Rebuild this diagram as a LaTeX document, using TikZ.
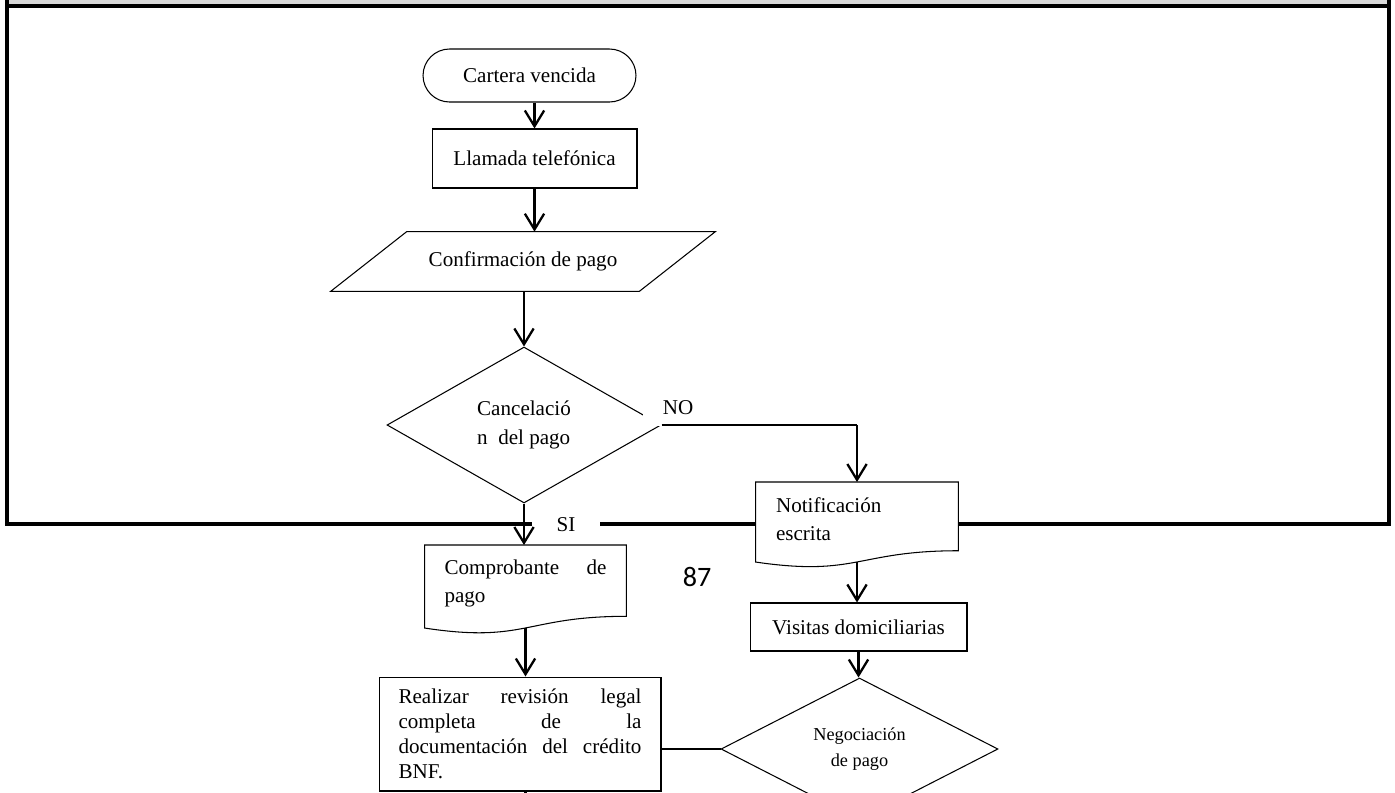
\documentclass[tikz,border=0pt]{standalone}
\usepackage{fontspec}
\setmainfont{Liberation Serif}
\newfontfamily\pagefont{Carlito}
\usepackage{xcolor}
\usetikzlibrary{arrows.meta, positioning, shapes.geometric, calc, backgrounds}
\definecolor{bandgray}{RGB}{217,217,217}
\hyphenpenalty=10000
\exhyphenpenalty=10000
\tolerance=10000
\hbadness=10000

% document symbol (wavy bottom) around node #1, full height #2
\newcommand{\docoutline}[2]{%
  \draw[shapeline, fill=white] (#1.north west) -- (#1.north east)
    -- ($(#1.north east)+(0,0.802*#2)$)
    .. controls ($(#1.north)+(0,0.802*#2)$) and ($(#1.north)+(0,1.1075*#2)$)
    .. ($(#1.north west)+(0,0.934*#2)$) -- cycle;
  \coordinate (#1 wave) at ($(#1.north)+(0,0.933*#2)$);}

\begin{document}
\begin{tikzpicture}[x=0.02cm, y=-0.02cm, font=\fontsize{12}{15.9}\selectfont,
    shapeline/.style={draw, line width=0.6pt},
    procbox/.style={shapeline, rectangle, align=center},
    decision/.style={shapeline, diamond, aspect=2, inner sep=0pt},
    arr/.style={line width=1.3pt, -{Straight Barb[length=9pt,width=11pt]}},
    link/.style={line width=0.6pt},
    frameline/.style={line width=1.8pt},
    lbl/.style={fill=white, inner sep=0pt}]
  \useasboundingbox (0,0) rectangle (1395,792);
  \clip (0,0) rectangle (1395,792);
  \begin{scope}[on background layer]
    \fill[white] (0,0) rectangle (1395,792);
    \fill[bandgray] (7,0) rectangle (1389,6);
    \draw[frameline] (7,0) -- (7,524) -- (1389,524) -- (1389,0);
    \draw[frameline] (7,6) -- (1389,6);
  \end{scope}

  % left column
  \node[procbox, rounded corners=0.53cm, minimum width=4.26cm,
        minimum height=1.06cm] (cart) at (529.5,75.5) {Cartera vencida};
  \node[procbox, minimum width=4.1cm, minimum height=1.18cm] (llam)
    at (534.5,158.5) {Llamada telefónica};
  \node[minimum width=6.16cm, minimum height=1.18cm] (conf) at (523,261.5)
    {Confirmación de pago};
  \draw[shapeline] ($(conf.north west)+(38,0)$) -- ($(conf.north east)+(38,0)$)
    -- ($(conf.south east)-(38,0)$) -- ($(conf.south west)-(38,0)$) -- cycle;
  \node[decision, minimum width=5.48cm, minimum height=3.12cm, align=left,
        font=\fontsize{12}{16.4}\selectfont] (canc) at (524,425)
    {Cancelació\\n\ \ del pago};
  \node[anchor=north, minimum width=4.02cm, minimum height=1.52cm,
        text width=3.24cm, align=justify] (comp) at (525.5,545)
    {Comprobante de pago};
  \node[procbox, minimum width=5.64cm, minimum height=2.28cm, text width=4.86cm,
        align=justify, font=\fontsize{12}{14.2}\selectfont] (real) at (520,734)
    {Realizar revisión legal\linebreak completa de la\linebreak
     documentación del crédito BNF.};

  % right column
  \node[anchor=north, minimum width=4.04cm, minimum height=1.48cm,
        text width=3.24cm, align=left] (notif) at (857,482)
    {Notificación escrita};
  \node[procbox, minimum width=4.34cm, minimum height=0.96cm] (visit)
    at (858.5,627) {Visitas domiciliarias};
  \node[decision, minimum width=5.54cm, minimum height=2.84cm, align=center,
        font=\fontsize{10.4}{14.7}\selectfont] (negoc) at (859.5,749)
    {Negociación\\de pago};

  \begin{scope}[on background layer]
    \docoutline{comp}{88.9}
    \docoutline{notif}{85.7}
  \end{scope}

  \node[lbl, minimum width=1.4cm, minimum height=0.72cm] (nolab) at (678,408) {NO};
  \node[lbl, minimum width=1.36cm, minimum height=0.68cm] (silab) at (566,525) {SI};
  \node[font=\pagefont\fontsize{16}{19}\selectfont] (pnum) at (697,577) {87};

  \draw[arr] (cart.south -| llam.north) -- (llam.north);
  \draw[arr] (llam.south) -- (llam.south |- conf.north);
  \draw[arr] (canc.north |- conf.south) -- (canc.north);
  \coordinate (nocorner) at (canc.east -| notif.north);
  \draw[link] (canc.east) -- (nocorner);
  \draw[arr] (nocorner) -- (notif.north);
  \draw[arr] (canc.south) -- (canc.south |- comp.north);
  \draw[arr] (comp wave) -- (comp wave |- real.north);
  \draw[arr] (notif wave) -- (notif wave |- visit.north);
  \draw[arr] (visit.south) -- (visit.south |- negoc.north);
  \draw[link] (real.east |- negoc.west) -- (negoc.west);
  \draw[line width=1.3pt] (real.south -| comp wave) -- ++(0,30);
\end{tikzpicture}
\end{document}
